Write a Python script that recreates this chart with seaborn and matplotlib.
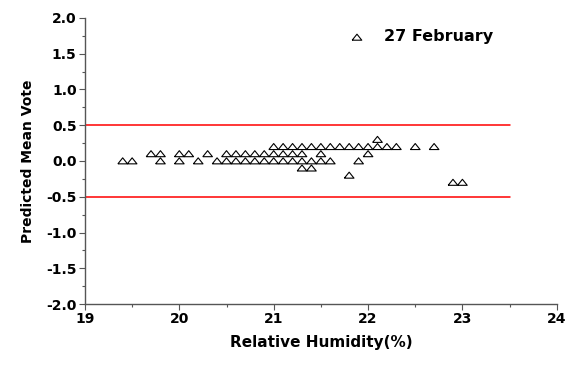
import matplotlib
matplotlib.use("Agg")
import matplotlib.pyplot as plt
from matplotlib.ticker import MultipleLocator
import seaborn as sns
import pandas as pd
import numpy as np

humidity = [19.4, 19.5, 19.7, 19.8, 19.8, 20.0, 20.0, 20.1, 20.2, 20.3,
            20.4, 20.5, 20.5, 20.6, 20.6, 20.7, 20.7, 20.8, 20.8, 20.9, 20.9,
            21.0, 21.0, 21.0, 21.1, 21.1, 21.1, 21.2, 21.2, 21.2,
            21.3, 21.3, 21.3, 21.3, 21.4, 21.4, 21.4, 21.5, 21.5, 21.5,
            21.6, 21.6, 21.7, 21.8, 21.8, 21.9, 21.9, 22.0, 22.0,
            22.1, 22.1, 22.2, 22.3, 22.5, 22.7, 22.9, 23.0]
pmv = [0.0, 0.0, 0.1, 0.1, 0.0, 0.1, 0.0, 0.1, 0.0, 0.1,
       0.0, 0.0, 0.1, 0.0, 0.1, 0.0, 0.1, 0.0, 0.1, 0.0, 0.1,
       0.0, 0.1, 0.2, 0.0, 0.1, 0.2, 0.0, 0.1, 0.2,
       0.0, 0.1, 0.2, -0.1, -0.1, 0.0, 0.2, 0.0, 0.1, 0.2,
       0.0, 0.2, 0.2, 0.2, -0.2, 0.2, 0.0, 0.2, 0.1,
       0.3, 0.2, 0.2, 0.2, 0.2, 0.2, -0.3, -0.3]
limits = [0.5, -0.5]
y_ticks = [-2.0, -1.5, -1.0, -0.5, 0.0, 0.5, 1.0, 1.5, 2.0]
x_ticks = [19, 20, 21, 22, 23, 24]
series_label = "27 February"
x_label = "Relative Humidity(%)"
y_label = "Predicted Mean Vote"

df = pd.DataFrame({"RH": humidity, "PMV": pmv})

sns.set_theme(style="white")
plt.rcParams["font.family"] = ["DejaVu Sans"]
plt.rcParams["font.weight"] = "bold"
plt.rcParams["text.color"] = "black"

fig = plt.figure(figsize=(5.74, 3.65), dpi=100)
ax = fig.add_axes([0.148, 0.167, 0.822, 0.784])

for lv in limits:
    ax.plot([19, 23.5], [lv, lv], color="#ff0000", lw=1.1, zorder=1)

tri = [(-1, -0.6), (1, -0.6), (0, 0.65), (-1, -0.6)]
sns.scatterplot(data=df, x="RH", y="PMV", ax=ax, marker=tri, s=48,
                facecolor="none", edgecolor="black", linewidth=0.8,
                label=series_label, zorder=3)

ax.set_xticks(x_ticks)
ax.set_xticklabels([str(v) for v in x_ticks])
ax.set_yticks(y_ticks)
ax.set_yticklabels([f"{v:.1f}" for v in y_ticks])
ax.xaxis.set_minor_locator(MultipleLocator(0.5))
ax.yaxis.set_minor_locator(MultipleLocator(0.25))
ax.set_xlim(19, 24)
ax.set_ylim(-2.0, 2.0)
ax.tick_params(which="major", direction="out", length=4, width=0.8,
               color="#555555", labelsize=10, bottom=True, left=True, pad=2,
               labelcolor="black")
ax.tick_params(which="minor", direction="out", length=2.5, width=0.8,
               color="#555555", bottom=True, left=True)
for lab in ax.get_xticklabels() + ax.get_yticklabels():
    lab.set_fontweight("bold")

for side in ["top", "right"]:
    ax.spines[side].set_visible(False)
for side in ["left", "bottom"]:
    ax.spines[side].set_color("#555555")
    ax.spines[side].set_linewidth(1.0)

ax.set_xlabel(x_label, fontsize=11, fontweight="bold", labelpad=6, color="black")
ax.set_ylabel(y_label, fontsize=10, fontweight="bold", labelpad=8, color="black")

leg = ax.legend(loc="center left", bbox_to_anchor=(341 / 574, 1 - 37 / 365),
                bbox_transform=fig.transFigure, frameon=False,
                prop={"weight": "bold", "size": 11.5}, handletextpad=0.7,
                borderpad=0, borderaxespad=0, handlelength=2.0)
for t in leg.get_texts():
    t.set_color("black")

fig.savefig("out.png", dpi=100)
